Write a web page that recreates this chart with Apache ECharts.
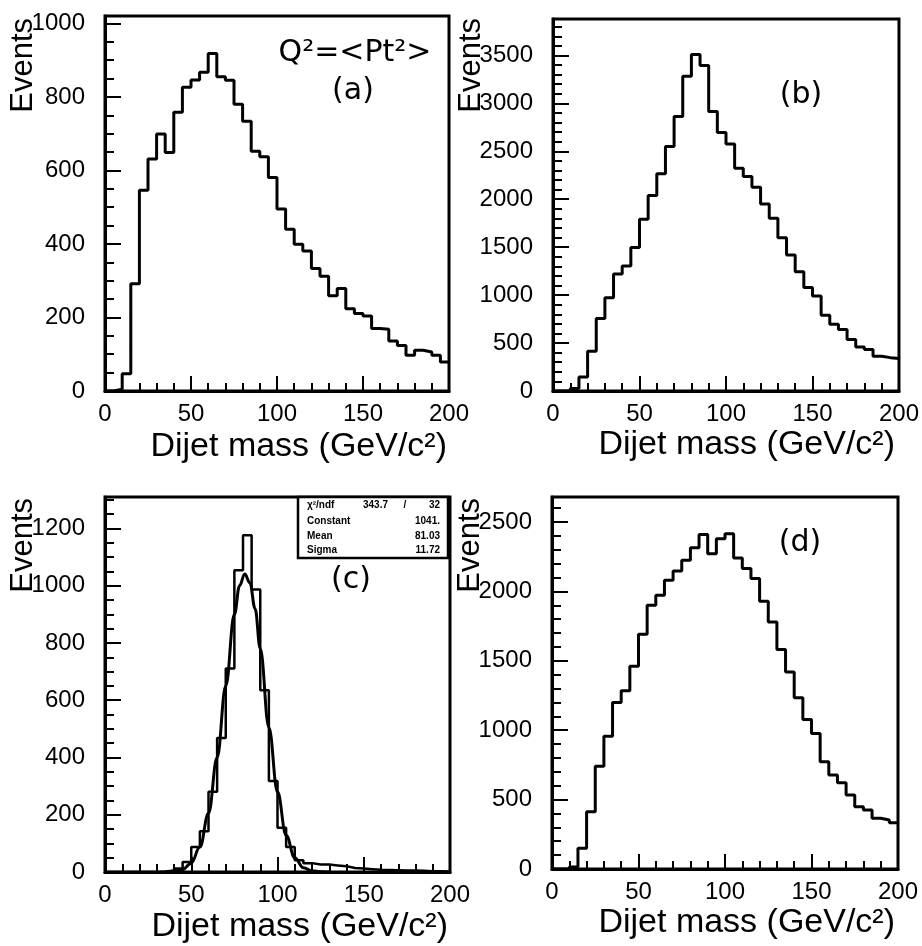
<!DOCTYPE html>
<html>
<head>
<meta charset="utf-8">
<script src="https://cdn.jsdelivr.net/npm/echarts@6/dist/echarts.min.js"></script>
<style>
html,body{margin:0;padding:0;background:#fff;}
#chart{width:922px;height:946px;}
</style>
</head>
<body>
<div id="chart"></div>
<script>
// Lower bin edges (GeV/c^2), bin width 5, last edge closes the histogram
const massEdges = [0,5,10,15,20,25,30,35,40,45,50,55,60,65,70,75,80,85,90,95,
                   100,105,110,115,120,125,130,135,140,145,150,155,160,165,170,175,180,185,190,195,200];

const eventsA = [0,5,47,292,546,631,699,649,758,826,846,867,918,855,845,780,734,652,637,581,
                 495,440,399,381,333,312,259,279,224,211,204,170,168,136,124,97,111,106,97,79];
const eventsB = [0,0,25,146,415,756,972,1220,1303,1498,1791,2038,2265,2551,2864,3282,3509,3394,2916,2697,
                 2575,2324,2237,2125,1951,1801,1599,1418,1244,1080,990,791,697,641,537,460,432,362,348,338];
const eventsC = [0,0,0,0,0,0,2,5,12,35,87,142,280,468,711,1054,1176,987,635,318,
                 155,87,41,31,26,26,23,20,14,12,10,8,7,6,5,5,4,3,3,2];
const eventsD = [0,0,15,149,413,741,957,1200,1284,1461,1691,1900,1972,2080,2147,2224,2315,2409,2272,2380,
                 2416,2241,2164,2092,1929,1780,1581,1420,1233,1077,976,773,677,621,533,449,425,365,353,333];

// Gaussian fit curve in panel (c)
const fitMass   = [40,45,50,55,60,65,70,75,78,81,84,87,90,95,100,105,110,115,120,125,130];
const fitEvents = [2,9,31,87,205,400,650,900,1000,1041,1010,920,780,505,280,128,50,15,4,1,0];

// Tick settings
const xTicks = {min:0, max:200, interval:50, minorSplit:5};
const yTicksA = {min:0, max:1020, interval:200, minorSplit:4};
const yTicksB = {min:0, max:3880, interval:500, minorSplit:5};
const yTicksC = {min:0, max:1310, interval:200, minorSplit:4};
const yTicksD = {min:0, max:2680, interval:500, minorSplit:5};

// Texts
const xName = 'Dijet mass (GeV/c²)';
const yName = 'Events';
const panelTags = ['(a)','(b)','(c)','(d)'];
const titleA = 'Q²=<Pt²>';
const fitStats = [
  ['χ²/ndf', '343.7', '/', '32'],
  ['Constant', '', '', '1041.'],
  ['Mean', '', '', '81.03'],
  ['Sigma', '', '', '11.72']
];

function histData(vals){
  const d = [];
  for (let i = 0; i < vals.length; i++) d.push([massEdges[i], vals[i]]);
  d.push([massEdges[vals.length], vals[vals.length-1]]);
  return d;
}

const grids = [
  {left:105, top:16, width:344, height:375},
  {left:553, top:19, width:346, height:372},
  {left:105, top:497, width:345, height:375},
  {left:552, top:497, width:346, height:372}
];
const yTickSets = [yTicksA, yTicksB, yTicksC, yTicksD];
const FONT = 'Liberation Sans';
const plain = v => String(v);

const option = {
  backgroundColor:'#fff',
  animation:false,
  grid: grids.map(g => Object.assign({show:true, borderColor:'#000', borderWidth:3, backgroundColor:'transparent'}, g)),
  xAxis: grids.map((g,i) => ({
    type:'value', gridIndex:i, min:xTicks.min, max:xTicks.max, interval:xTicks.interval,
    axisLine:{show:true, lineStyle:{color:'#000', width:3}},
    axisTick:{show:true, inside:true, length:15, lineStyle:{color:'#000', width:2}},
    minorTick:{show:true, splitNumber:xTicks.minorSplit, length:8, lineStyle:{color:'#000', width:2}},
    splitLine:{show:false},
    axisLabel:{color:'#000', fontFamily:FONT, fontSize:24, margin:11, formatter:plain}
  })),
  yAxis: grids.map((g,i) => ({
    type:'value', gridIndex:i, min:yTickSets[i].min, max:yTickSets[i].max, interval:yTickSets[i].interval,
    axisLine:{show:true, lineStyle:{color:'#000', width:3}},
    axisTick:{show:true, inside:true, length:16, lineStyle:{color:'#000', width:2}},
    minorTick:{show:true, splitNumber:yTickSets[i].minorSplit, length:9, lineStyle:{color:'#000', width:2}},
    splitLine:{show:false},
    axisLabel:{color:'#000', fontFamily:FONT, fontSize:24, margin:20, showMaxLabel:false, formatter:plain}
  })),
  series: [
    {type:'line', xAxisIndex:0, yAxisIndex:0, data:histData(eventsA), step:'end', symbol:'none', lineStyle:{color:'#000', width:3}},
    {type:'line', xAxisIndex:1, yAxisIndex:1, data:histData(eventsB), step:'end', symbol:'none', lineStyle:{color:'#000', width:3}},
    {type:'line', xAxisIndex:2, yAxisIndex:2, data:histData(eventsC), step:'end', symbol:'none', lineStyle:{color:'#000', width:2.5}},
    {type:'line', xAxisIndex:2, yAxisIndex:2, data:fitMass.map((x,i)=>[x, fitEvents[i]]), smooth:0.4, smoothMonotone:'x', symbol:'none', lineStyle:{color:'#000', width:3}},
    {type:'line', xAxisIndex:3, yAxisIndex:3, data:histData(eventsD), step:'end', symbol:'none', lineStyle:{color:'#000', width:3}}
  ],
  graphic: []
};

const G = option.graphic;
// y axis names (rotated)
[[23,18],[471,18],[23,498],[470,498]].forEach(p => {
  G.push({type:'text', x:p[0], y:p[1], rotation:Math.PI/2, z:10,
    style:{text:yName, font:'31px "Liberation Sans"', fill:'#000', textAlign:'right', textVerticalAlign:'middle'}});
});
// x axis names
[[447,464],[895,462],[448,944],[895,940]].forEach(p => {
  G.push({type:'text', x:p[0], y:p[1], z:10,
    style:{text:xName, font:'34px "Liberation Sans"', fill:'#000', textAlign:'right', textVerticalAlign:'bottom'}});
});
// panel tags
[[353,91],[801,95],[351,580],[800,543]].forEach((p,i) => {
  G.push({type:'text', x:p[0], y:p[1], z:10,
    style:{text:panelTags[i], font:'30px "DejaVu Sans"', fill:'#000', textAlign:'center', textVerticalAlign:'middle'}});
});
G.push({type:'text', x:355, y:53, z:10,
  style:{text:titleA, font:'30px "DejaVu Sans"', fill:'#000', textAlign:'center', textVerticalAlign:'middle'}});
// fit statistics box in (c)
G.push({type:'rect', shape:{x:298, y:497, width:150, height:61}, z:9,
  style:{fill:'#fff', stroke:'#000', lineWidth:2.5}});
const statY = [505, 521, 536, 550];
fitStats.forEach((row,i) => {
  const f = 'bold 10px "Liberation Sans"';
  G.push({type:'text', x:307, y:statY[i], z:10, style:{text:row[0], font:f, fill:'#000', textAlign:'left', textVerticalAlign:'middle'}});
  if (row[1]) G.push({type:'text', x:388, y:statY[i], z:10, style:{text:row[1], font:f, fill:'#000', textAlign:'right', textVerticalAlign:'middle'}});
  if (row[2]) G.push({type:'text', x:405, y:statY[i], z:10, style:{text:row[2], font:f, fill:'#000', textAlign:'center', textVerticalAlign:'middle'}});
  G.push({type:'text', x:440, y:statY[i], z:10, style:{text:row[3], font:f, fill:'#000', textAlign:'right', textVerticalAlign:'middle'}});
});

const chart = echarts.init(document.getElementById('chart'), null, {renderer:'canvas'});
chart.setOption(option);
</script>
</body>
</html>
